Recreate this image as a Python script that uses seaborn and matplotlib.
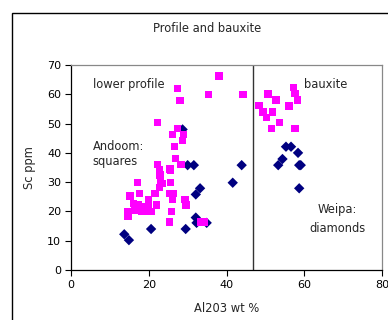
import matplotlib
matplotlib.use("Agg")
import matplotlib.pyplot as plt
import seaborn as sns
import pandas as pd
from matplotlib.patches import Rectangle

# Andoom (squares): lower profile + bauxite
andoom_x = [38.1, 27.4, 35.4, 44.2, 28.0, 22.3, 27.4, 26.1, 29.0, 28.6, 26.6, 26.8,
            28.3, 22.3, 25.5, 22.7, 22.9, 23.1, 23.6, 25.6, 25.6, 17.1, 22.7, 21.6,
            17.7, 15.2, 25.5, 26.3, 26.1, 29.3, 29.6, 22.0, 19.9, 16.0, 17.3, 18.6,
            19.9, 20.7, 14.7, 14.7, 16.5, 18.2, 19.5, 25.9, 25.3, 33.3, 34.2,
            57.2, 57.6, 58.2, 56.1, 50.7, 52.7, 48.4, 49.4, 51.8, 50.3, 53.7, 51.6, 57.6]
andoom_y = [66.2, 62.0, 60.0, 60.0, 57.9, 50.3, 48.4, 46.3, 46.3, 44.3, 42.1, 38.0,
            36.1, 36.1, 34.5, 34.1, 32.4, 30.7, 29.6, 34.1, 29.9, 29.9, 28.1, 26.2,
            26.2, 25.3, 26.2, 26.2, 24.1, 24.1, 22.2, 22.2, 23.9, 22.8, 22.2, 21.6,
            22.2, 19.9, 19.9, 18.2, 20.5, 19.9, 19.9, 19.9, 16.4, 16.4, 16.4,
            62.3, 60.3, 58.0, 56.0, 60.1, 58.0, 56.1, 54.0, 54.0, 52.1, 50.3, 48.4, 48.4]

# Weipa (diamonds)
weipa_x = [28.7, 30.0, 31.6, 43.9, 41.6, 33.2, 32.1, 32.1, 32.3, 34.9, 20.6, 29.5,
           13.7, 14.9, 55.3, 56.6, 58.4, 54.4, 53.3, 58.7, 59.1, 58.7]
weipa_y = [48.0, 35.8, 35.8, 35.8, 29.8, 27.9, 25.8, 17.9, 16.1, 16.1, 14.0, 14.0,
           12.2, 10.2, 42.1, 42.1, 40.0, 37.9, 35.8, 35.8, 35.8, 27.9]

x_ticks = [0, 20, 40, 60, 80]
y_ticks = [0, 10, 20, 30, 40, 50, 60, 70]
divider_x = 46.7

# Weipa first so the magenta squares are drawn on top
df = pd.DataFrame({
    "Al2O3": weipa_x + andoom_x,
    "Sc": weipa_y + andoom_y,
    "site": ["Weipa"] * len(weipa_x) + ["Andoom"] * len(andoom_x),
})

sns.set_style("white")
plt.rcParams["font.family"] = ["DejaVu Sans"]

W, H = 388, 320
fig = plt.figure(figsize=(W / 100, H / 100), dpi=100)
ax = fig.add_axes([71 / W, (H - 270) / H, (382 - 71) / W, (270 - 65) / H])

sns.scatterplot(data=df, x="Al2O3", y="Sc", hue="site", style="site",
                markers={"Andoom": "s", "Weipa": "D"},
                palette={"Andoom": "#FF00FF", "Weipa": "#000080"},
                s=28, linewidth=0, legend=False, ax=ax, clip_on=False, zorder=3)

ax.axvline(divider_x, color="#333333", lw=1.0, zorder=2)

ax.set_xlim(0, 80)
ax.set_ylim(0, 70)
ax.set_xticks(x_ticks)
ax.set_yticks(y_ticks)
ax.tick_params(axis="both", direction="out", length=4, width=0.8, labelsize=8,
               colors="black", pad=3, bottom=True, left=True)
for s in ["left", "bottom"]:
    ax.spines[s].set_color("black")
    ax.spines[s].set_linewidth(0.9)
for s in ["top", "right"]:
    ax.spines[s].set_color("#888888")
    ax.spines[s].set_linewidth(0.9)

fs = 8.3
ax.set_xlabel("Al203 wt %", fontsize=fs, labelpad=9)
ax.set_ylabel("Sc ppm", fontsize=fs, labelpad=8)

ax.text(5.6, 63.5, "lower profile", fontsize=fs, va="center", ha="left")
ax.text(5.6, 42.3, "Andoom:", fontsize=fs, va="center", ha="left")
ax.text(5.6, 37.0, "squares", fontsize=fs, va="center", ha="left")
ax.text(60.0, 63.5, "bauxite", fontsize=fs, va="center", ha="left")
ax.text(68.6, 20.5, "Weipa:", fontsize=fs, va="center", ha="center")
ax.text(68.6, 14.3, "diamonds", fontsize=fs, va="center", ha="center")

fig.text(207 / W, 1 - 28 / H, "Profile and bauxite", fontsize=fs, ha="center", va="center")

fig.patches.append(Rectangle((12 / W, -0.1), 1.2, 1 - 12.5 / H + 0.1,
                             transform=fig.transFigure, fill=False,
                             edgecolor="black", lw=1.0, zorder=0))

fig.savefig("out.png", dpi=100)
